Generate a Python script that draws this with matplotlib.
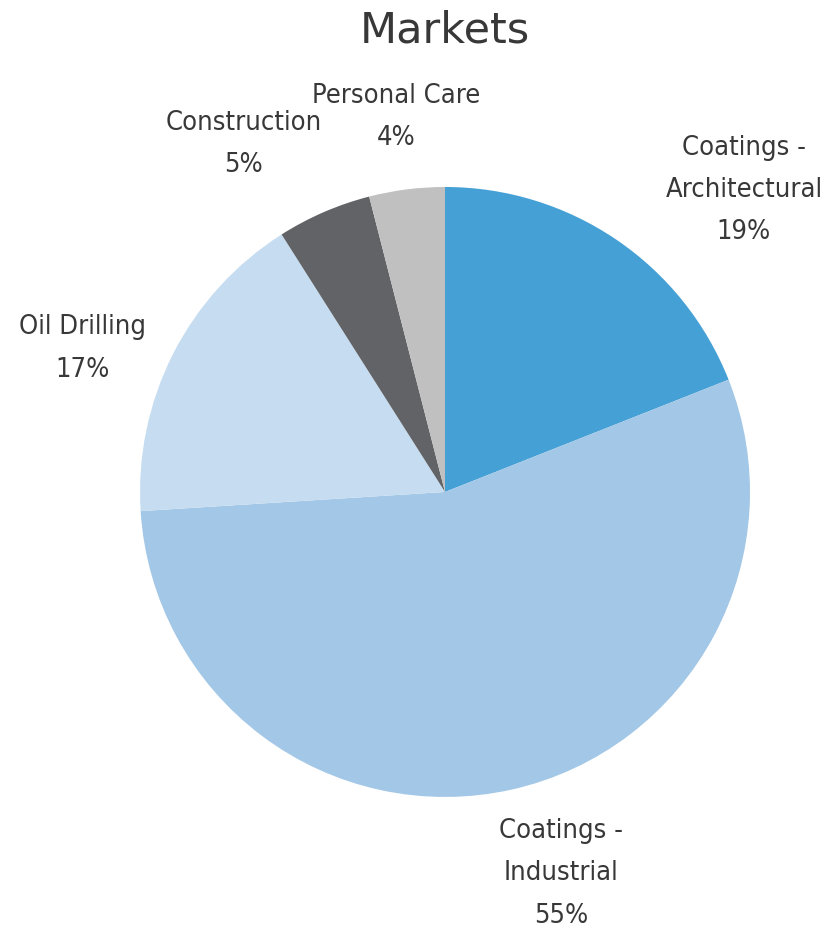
import matplotlib
matplotlib.use("Agg")
import matplotlib.pyplot as plt

labels = ["Coatings -\nArchitectural", "Coatings -\nIndustrial", "Oil Drilling", "Construction", "Personal Care"]
shares = [19, 55, 17, 5, 4]
colors = ["#45a0d5", "#a3c7e6", "#c6ddf1", "#616366", "#c0c0c0"]
# label centres, in units of the pie radius
label_pos = [(0.98, 0.99), (0.38, -1.25), (-1.19, 0.47), (-0.66, 1.14), (-0.16, 1.23)]

plt.rcParams["font.family"] = ["DejaVu Sans"]

fig = plt.figure(figsize=(8.35, 9.30), dpi=100)
ax = fig.add_axes([0.1677, 0.143, 0.7305, 0.656])

wedges, texts = ax.pie(shares, labels=[f"{l}\n{s}%" for l, s in zip(labels, shares)],
                       colors=colors, startangle=90, counterclock=False,
                       wedgeprops={"linewidth": 0})
for t, (x, y) in zip(texts, label_pos):
    t.set_position((x, y))
    t.set_ha("center")
    t.set_va("center")
    t.set_fontsize(19.5)
    t.set_color("#383838")
    t.set_fontstretch("condensed")
    t.set_linespacing(1.82)

ax.set_xlim(-1, 1)
ax.set_ylim(-1, 1)
ax.set_aspect("equal")

fig.text(0.533, 0.967, "Markets", ha="center", va="center", fontsize=31, color="#383838")

plt.savefig("out.png", dpi=100)
